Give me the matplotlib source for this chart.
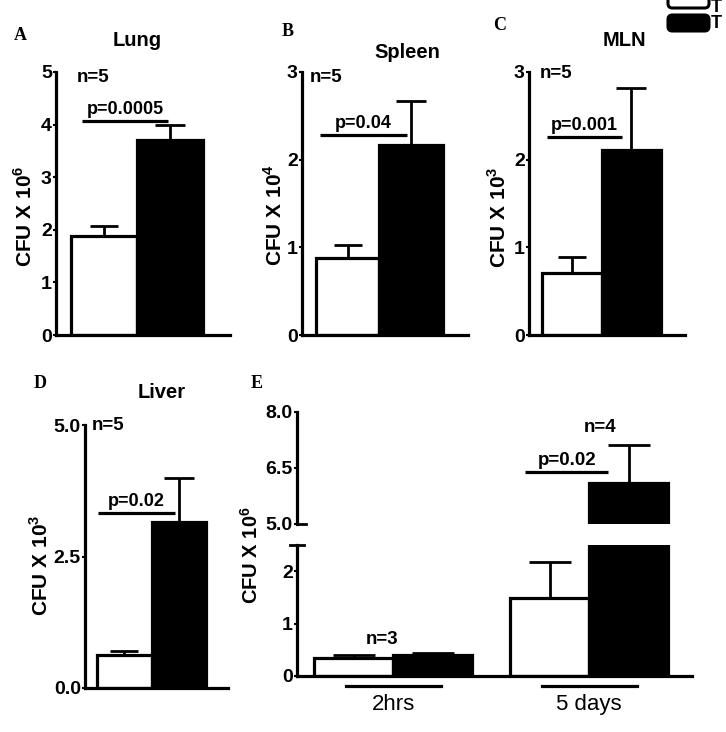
import matplotlib
matplotlib.use("Agg")
import matplotlib.pyplot as plt
from matplotlib.patches import FancyBboxPatch

plt.rcParams['font.family'] = ['Liberation Sans', 'DejaVu Sans']
plt.rcParams['font.weight'] = 'bold'
plt.rcParams['mathtext.fontset'] = 'custom'
plt.rcParams['mathtext.rm'] = 'Liberation Sans'
plt.rcParams['mathtext.bf'] = 'Liberation Sans:bold'

# data, panels A-D (CFU, mean and SEM)
organs = ['Lung', 'Spleen', 'MLN', 'Liver']
letters = ['A', 'B', 'C', 'D']
exponents = ['6', '4', '3', '3']
white_mean = [1.88, 0.88, 0.71, 0.63]
white_sem = [0.19, 0.15, 0.18, 0.07]
black_mean = [3.71, 2.17, 2.11, 3.16]
black_sem = [0.28, 0.50, 0.71, 0.84]
p_labels = ['p=0.0005', 'p=0.04', 'p=0.001', 'p=0.02']
n_labels = ['n=5', 'n=5', 'n=5', 'n=5']
y_max = [5, 3, 3, 5]

# panel E
timepoints = ['2hrs', '5 days']
e_white = [0.34, 1.49]
e_white_sem = [0.06, 0.69]
e_black = [0.40, 6.10]
e_black_sem = [0.04, 1.02]

W, H = 726, 732
fig = plt.figure(figsize=(W / 100, H / 100), dpi=100)

def rect(l, t, r, b):
    return [l / W, 1 - b / H, (r - l) / W, (b - t) / H]

def ftext(x, y, s, **kw):
    fig.text(x / W, 1 - y / H, s, **kw)

LW = 2.3

def style(ax, ticks, fmt=None):
    for s in ['top', 'right']:
        ax.spines[s].set_visible(False)
    for s in ['left', 'bottom']:
        ax.spines[s].set_linewidth(LW)
    ax.set_xticks([])
    ax.set_yticks(ticks)
    if fmt:
        ax.set_yticklabels([fmt % v for v in ticks])
    ax.tick_params(axis='y', length=2, width=1.5, pad=1, labelsize=14)

# layout of panels A-D: axes rect in pixels, significance line (x0, x1, y)
rects = [(56, 72, 230, 335), (302, 72, 468, 335), (529, 72, 685, 335), (85, 425, 228, 688)]
sig = [(0.17, 1.47, 4.07), (0.06, 1.44, 2.28), (0.08, 1.34, 2.26), (0.02, 1.43, 3.33)]
title_pos = [(137, 40), (407, 52), (624, 40), (162, 392)]
letter_pos = [(20, 35), (288, 31), (500, 26), (40, 384)]
ylab_pos = [(25, 216), (275, 215), (499, 217), (41, 565)]
n_pos = [(77, 78), (310, 78), (540, 74), (92, 426)]

for i in range(4):
    ax = fig.add_axes(rect(*rects[i]))
    ax.bar([0], [white_mean[i]], width=1, align='edge', color='white', edgecolor='black', linewidth=LW)
    ax.bar([1], [black_mean[i]], width=1, align='edge', color='black', edgecolor='black', linewidth=LW)
    ax.errorbar([0.5], [white_mean[i]], yerr=[[0], [white_sem[i]]], fmt='none', ecolor='black',
                elinewidth=2, capsize=10, capthick=2)
    ax.errorbar([1.5], [black_mean[i]], yerr=[[0], [black_sem[i]]], fmt='none', ecolor='black',
                elinewidth=2, capsize=11, capthick=2, zorder=0)
    ax.set_xlim(-0.22, 2.4)
    ax.set_ylim(0, y_max[i])
    if i == 3:
        style(ax, [0, 2.5, 5], '%.1f')
    else:
        style(ax, list(range(y_max[i] + 1)))
    x0, x1, ys = sig[i]
    ax.plot([x0, x1], [ys, ys], color='black', lw=LW, solid_capstyle='butt', clip_on=False)
    ax.annotate(p_labels[i], ((x0 + x1) / 2, ys), xytext=(0, 2), textcoords='offset points',
                ha='center', va='bottom', fontsize=13, fontweight='bold')
    ftext(*n_pos[i], n_labels[i], ha='left', va='center', fontsize=13.5, fontweight='bold')
    ftext(*title_pos[i], organs[i], ha='center', va='center', fontsize=14.5, fontweight='bold')
    ftext(*letter_pos[i], letters[i], ha='center', va='center', fontsize=13, fontweight='bold',
          family='Liberation Serif')
    ftext(*ylab_pos[i], r'CFU X 10$^{%s}$' % exponents[i], ha='center', va='center',
          rotation=90, fontsize=15, fontweight='bold')

# panel E, broken y axis
group_x = [0, 2.48]
axb = fig.add_axes(rect(297, 545, 692, 676))
axt = fig.add_axes(rect(297, 412, 692, 524))
for ax in [axb, axt]:
    ax.bar([g - 1 for g in group_x], e_white, width=1, align='edge', color='white', edgecolor='black', linewidth=LW)
    ax.bar(group_x, e_black, width=1, align='edge', color='black', edgecolor='black', linewidth=LW)
    ax.errorbar([g - 0.5 for g in group_x], e_white, yerr=[[0, 0], e_white_sem], fmt='none', ecolor='black',
                elinewidth=2, capsize=15, capthick=2)
    ax.errorbar([g + 0.5 for g in group_x], e_black, yerr=[[0, 0], e_black_sem], fmt='none', ecolor='black',
                elinewidth=2, capsize=15, capthick=2, zorder=0)
    ax.set_xlim(-1.22, 3.78)
axb.set_ylim(0, 2.5)
axt.set_ylim(5, 8)
style(axb, [0, 1, 2])
style(axt, [5.0, 6.5, 8.0], '%.1f')
axt.spines['bottom'].set_visible(False)
# break marks
axt.plot([0, 0.022], [5, 5], color='black', lw=2, transform=axt.get_yaxis_transform(), clip_on=False)
axb.plot([-0.018, 0.018], [1, 1], color='black', lw=2, transform=axb.transAxes, clip_on=False)

# significance and n for E
axt.plot([1.67, 2.72], [6.39, 6.39], color='black', lw=LW, solid_capstyle='butt')
axt.annotate('p=0.02', ((1.67 + 2.72) / 2, 6.39), xytext=(0, 2), textcoords='offset points',
             ha='center', va='bottom', fontsize=13.5, fontweight='bold')
ftext(600, 427, 'n=4', ha='center', va='center', fontsize=13.5, fontweight='bold')
ftext(382, 640, 'n=3', ha='center', va='center', fontsize=13.5, fontweight='bold')

# group brackets and labels below x axis
for g, lab in zip(group_x, timepoints):
    axb.plot([g - 0.6, g + 0.6], [-0.08, -0.08], color='black', lw=LW, clip_on=False,
             transform=axb.get_xaxis_transform())
    axb.text(g, -0.14, lab, ha='center', va='top', fontsize=16, fontweight='normal',
             transform=axb.get_xaxis_transform())

ftext(257, 384, 'E', ha='center', va='center', fontsize=13, fontweight='bold', family='Liberation Serif')
ftext(251, 555, r'CFU X 10$^{6}$', ha='center', va='center', rotation=90, fontsize=14.5, fontweight='bold')

# legend, cut off at the right edge
for y0, fc in [(-8, 'white'), (15, 'black')]:
    fig.add_artist(FancyBboxPatch((668 / W, 1 - (y0 + 16) / H), 41 / W, 16 / H,
                                  boxstyle='round,pad=0,rounding_size=0.006', fc=fc, ec='black',
                                  lw=2.2, transform=fig.transFigure))
ftext(711, 8, 'T', ha='left', va='center', fontsize=13, fontweight='bold')
ftext(711, 24, 'T', ha='left', va='center', fontsize=13, fontweight='bold')

fig.savefig('out.png', dpi=100)
